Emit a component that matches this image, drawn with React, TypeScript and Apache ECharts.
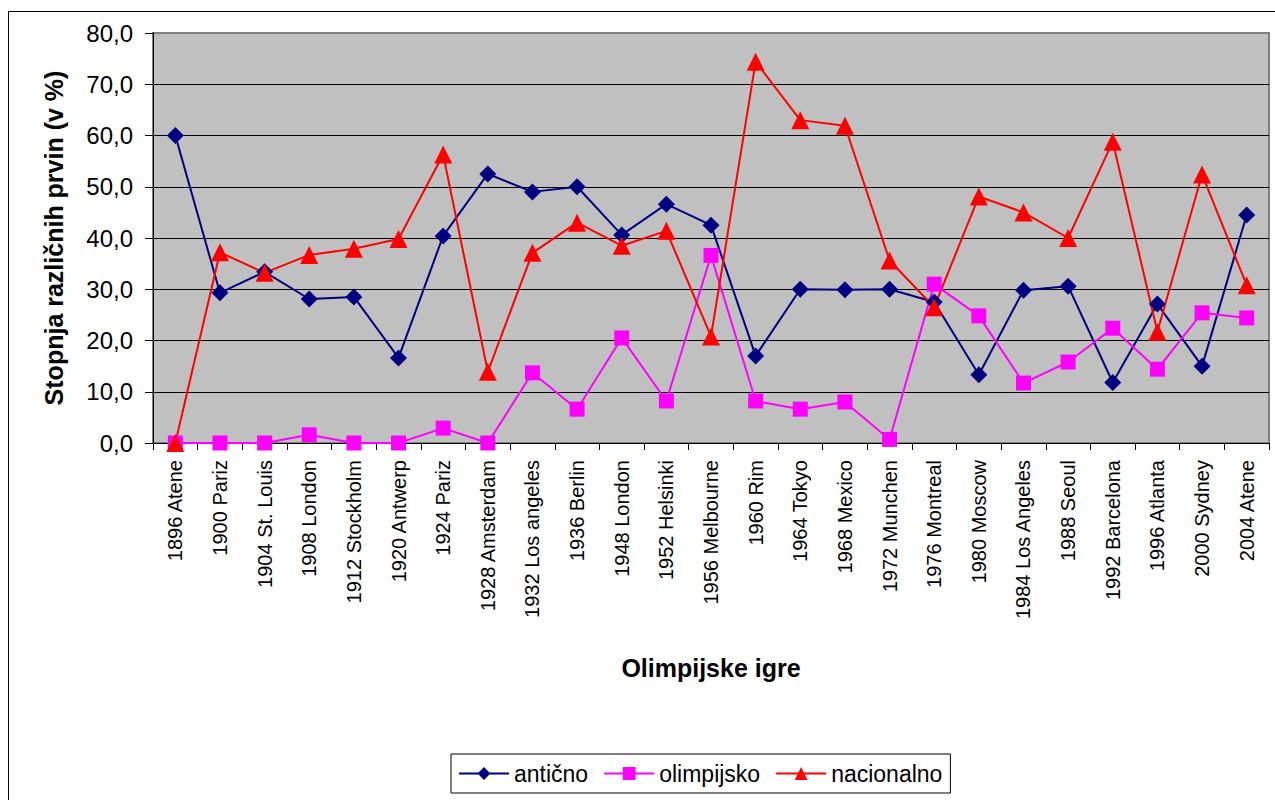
import React, { useEffect, useRef } from "react";
import * as echarts from "echarts";

const categories = [
  "1896 Atene", "1900 Pariz", "1904 St. Louis", "1908 London", "1912 Stockholm",
  "1920 Antwerp", "1924 Pariz", "1928 Amsterdam", "1932 Los angeles", "1936 Berlin",
  "1948 London", "1952 Helsinki", "1956 Melbourne", "1960 Rim", "1964 Tokyo",
  "1968 Mexico", "1972 Munchen", "1976 Montreal", "1980 Moscow", "1984 Los Angeles",
  "1988 Seoul", "1992 Barcelona", "1996 Atlanta", "2000 Sydney", "2004 Atene",
];

const anticno = [
  60.0, 29.3, 33.4, 28.1, 28.5, 16.6, 40.4, 52.5, 49.0, 50.0,
  40.6, 46.6, 42.5, 17.0, 30.0, 29.9, 30.0, 27.5, 13.3, 29.8,
  30.6, 11.8, 27.1, 15.0, 44.5,
];

const olimpijsko = [
  0.0, 0.0, 0.0, 1.6, 0.0, 0.0, 2.9, 0.0, 13.7, 6.6,
  20.5, 8.2, 36.6, 8.2, 6.6, 8.0, 0.7, 31.0, 24.8, 11.7,
  15.8, 22.4, 14.4, 25.4, 24.4,
];

const nacionalno = [
  0.0, 37.2, 33.2, 36.7, 37.9, 39.8, 56.3, 13.9, 37.1, 43.0,
  38.5, 41.4, 20.8, 74.4, 63.0, 61.9, 35.6, 26.5, 48.1, 45.0,
  40.0, 58.8, 21.7, 52.4, 30.8,
];

const yTicks = { min: 0, max: 80, interval: 10 };

const FONT = "Arial, 'Liberation Sans', sans-serif";

export default function App() {
  const ref = useRef<HTMLDivElement>(null);

  useEffect(() => {
    document.body.style.margin = "0";
    if (!ref.current) return;
    const chart = echarts.init(ref.current, undefined, { renderer: "svg" });
    const splitColors = ["#000", "#000", "#000", "#000", "#000", "#000", "#000", "#000", "#808080"];
    chart.setOption({
      animation: false,
      backgroundColor: "#fff",
      textStyle: { fontFamily: FONT, color: "#000" },
      graphic: [
        {
          type: "rect",
          shape: { x: 8.5, y: 11.5, width: 1400, height: 1000 },
          style: { fill: "none", stroke: "#000", lineWidth: 1 },
          silent: true,
          z: -10,
        },
      ],
      grid: {
        left: 153,
        top: 33,
        right: 6,
        bottom: 357,
        show: true,
        backgroundColor: "#C0C0C0",
        borderColor: "#808080",
        borderWidth: 2,
      },
      legend: {
        left: 451,
        top: 754,
        orient: "horizontal",
        padding: [8, 8, 8, 7],
        itemGap: 15,
        itemWidth: 50,
        itemHeight: 16,
        borderColor: "#000",
        borderWidth: 1,
        textStyle: { fontSize: 23, color: "#000", fontFamily: FONT },
        data: ["antično", "olimpijsko", "nacionalno"],
      },
      xAxis: {
        type: "category",
        data: categories,
        boundaryGap: true,
        name: "Olimpijske igre",
        nameLocation: "middle",
        nameGap: 212,
        nameTextStyle: { fontSize: 25, fontWeight: "bold", color: "#000", fontFamily: FONT },
        axisLine: { show: true, lineStyle: { color: "#000", width: 1 } },
        axisTick: { show: true, length: 7, alignWithLabel: false, lineStyle: { color: "#000" } },
        axisLabel: {
          interval: 0,
          rotate: 90,
          fontSize: 20,
          margin: 17,
          color: "#000",
          fontFamily: FONT,
        },
        splitLine: { show: false },
      },
      yAxis: {
        type: "value",
        min: yTicks.min,
        max: yTicks.max,
        interval: yTicks.interval,
        name: "Stopnja različnih prvin (v %)",
        nameLocation: "middle",
        nameGap: 87,
        nameTextStyle: { fontSize: 25, fontWeight: "bold", color: "#000", fontFamily: FONT },
        axisLine: { show: true, lineStyle: { color: "#000", width: 1 } },
        axisTick: { show: true, length: 8, lineStyle: { color: "#000" } },
        axisLabel: {
          fontSize: 24,
          margin: 20,
          color: "#000",
          fontFamily: FONT,
          formatter: (v: number) => v.toFixed(1).replace(".", ","),
        },
        splitLine: { show: true, lineStyle: { color: splitColors, width: 1 } },
      },
      series: [
        {
          name: "antično",
          type: "line",
          data: anticno,
          symbol: "diamond",
          symbolSize: 17,
          color: "#000080",
          lineStyle: { color: "#000080", width: 2 },
          itemStyle: { color: "#000080" },
        },
        {
          name: "olimpijsko",
          type: "line",
          data: olimpijsko,
          symbol: "rect",
          symbolSize: 15,
          color: "#FF00FF",
          lineStyle: { color: "#FF00FF", width: 2 },
          itemStyle: { color: "#FF00FF" },
        },
        {
          name: "nacionalno",
          type: "line",
          data: nacionalno,
          symbol: "triangle",
          symbolSize: 18,
          color: "#FF0000",
          lineStyle: { color: "#FF0000", width: 2 },
          itemStyle: { color: "#FF0000" },
        },
      ],
    });
    return () => chart.dispose();
  }, []);

  return <div ref={ref} style={{ width: 1275, height: 800 }} />;
}
